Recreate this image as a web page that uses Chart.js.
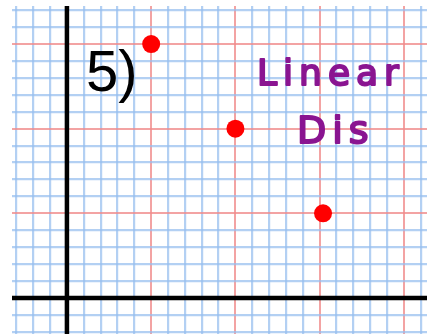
<!DOCTYPE html>
<html>
<head>
<meta charset="utf-8">
<script src="https://cdn.jsdelivr.net/npm/chart.js@4/dist/chart.umd.min.js"></script>
<style>
  html, body { margin: 0; padding: 0; background: #ffffff; }
  #wrap { width: 427px; height: 334px; }
</style>
</head>
<body>
<div id="wrap"><canvas id="c" width="427" height="334"></canvas></div>
<script>
// Plotted points (graph-paper squares from the origin)
const pointX = [5, 10, 15.2];
const pointY = [15, 10, 5];

// Visible window of the graph paper
const xRange = [-3.26, 21.37];
const yRange = [-2.13, 17.25];

// Problem label and handwritten note
const problemLabel = '5)';
const noteLines = ['Linear', 'Dis'];

const BLUE = 'rgba(150,190,238,0.72)';
const RED = 'rgba(240,140,140,0.8)';

function isMajor(v) { return Math.abs(v % 5) < 1e-9; }
function isZero(v) { return Math.abs(v) < 1e-9; }

function integerTicks(scale) {
  const out = [];
  for (let v = Math.ceil(scale.min); v <= Math.floor(scale.max); v++) out.push({ value: v });
  scale.ticks = out;
}

const gridOpts = {
  drawTicks: false,
  color: ctx => isZero(ctx.tick.value) ? 'rgba(0,0,0,0)' : (isMajor(ctx.tick.value) ? RED : BLUE),
  lineWidth: ctx => isMajor(ctx.tick.value) ? 2 : 2.2
};

// Black coordinate axes drawn through zero on both scales
const axesPlugin = {
  id: 'axes',
  beforeDatasetsDraw(chart) {
    const { ctx, chartArea: a, scales: { x, y } } = chart;
    const x0 = x.getPixelForValue(0);
    const y0 = y.getPixelForValue(0);
    ctx.save();
    ctx.strokeStyle = '#000000';
    ctx.lineWidth = 4.5;
    ctx.beginPath();
    ctx.moveTo(x0, a.top);
    ctx.lineTo(x0, a.bottom);
    ctx.moveTo(a.left, y0);
    ctx.lineTo(a.right, y0);
    ctx.stroke();
    ctx.restore();
  }
};

// Problem number and handwritten note
const textPlugin = {
  id: 'notes',
  afterDraw(chart) {
    const { ctx } = chart;
    ctx.save();
    ctx.textBaseline = 'alphabetic';
    ctx.fillStyle = '#000000';
    ctx.font = '58px "Liberation Sans", Arial, sans-serif';
    ctx.fillText(problemLabel, 86, 91);

    ctx.fillStyle = '#8a1591';
    ctx.strokeStyle = '#8a1591';
    ctx.lineWidth = 2;
    ctx.lineJoin = 'round';
    ctx.lineCap = 'round';
    ctx.font = '36px "DejaVu Sans", sans-serif';
    ctx.letterSpacing = '6px';
    ctx.fillText(noteLines[0], 257, 85);
    ctx.strokeText(noteLines[0], 257, 85);
    ctx.font = '38px "DejaVu Sans", sans-serif';
    ctx.letterSpacing = '6px';
    ctx.fillText(noteLines[1], 297, 143);
    ctx.strokeText(noteLines[1], 297, 143);
    ctx.restore();
  }
};

new Chart(document.getElementById('c'), {
  type: 'scatter',
  data: {
    datasets: [{
      data: pointX.map((v, i) => ({ x: v, y: pointY[i] })),
      backgroundColor: '#ff0000',
      borderWidth: 0,
      pointRadius: 9,
      pointHoverRadius: 9
    }]
  },
  options: {
    responsive: false,
    animation: false,
    events: [],
    layout: { autoPadding: false, padding: { left: 12, top: 6, right: 0, bottom: 0 } },
    plugins: { legend: { display: false }, tooltip: { enabled: false } },
    scales: {
      x: {
        type: 'linear',
        min: xRange[0], max: xRange[1],
        afterBuildTicks: integerTicks,
        ticks: { display: false },
        border: { display: false },
        grid: gridOpts
      },
      y: {
        type: 'linear',
        min: yRange[0], max: yRange[1],
        afterBuildTicks: integerTicks,
        ticks: { display: false },
        border: { display: false },
        grid: gridOpts
      }
    }
  },
  plugins: [axesPlugin, textPlugin]
});
</script>
</body>
</html>
